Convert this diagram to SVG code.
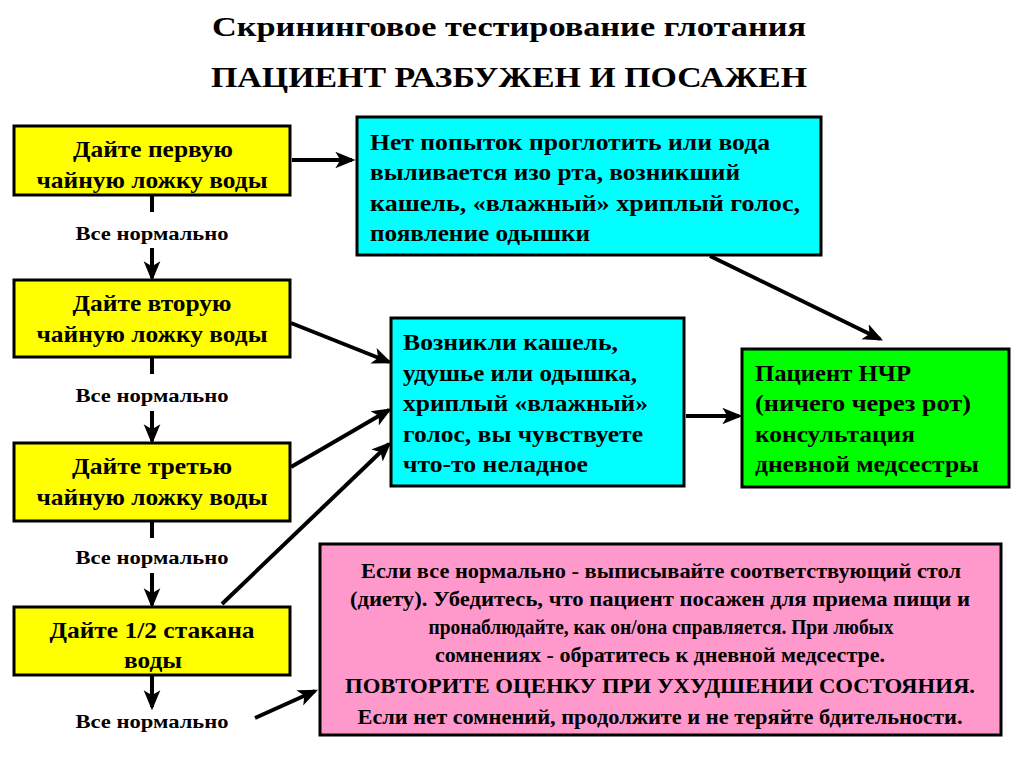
<svg xmlns="http://www.w3.org/2000/svg" width="1024" height="767" viewBox="0 0 1024 767">
<style>
.c{text-anchor:middle}
.box{stroke:#000;stroke-width:3}
.y{fill:#FFFF00}.cy{fill:#00FFFF}.g{fill:#00FF00}.p{fill:#FF99CC}
.ln{stroke:#000;stroke-width:4;fill:none}
.ar{stroke:#000;stroke-width:4;fill:none;marker-end:url(#ah)}
</style>
<defs>
<marker id="ah" viewBox="0 0 12 10" refX="10" refY="5" markerWidth="5" markerHeight="5" orient="auto" markerUnits="strokeWidth">
<path d="M0,0 L12,5 L0,10 L3,5 z" fill="#000"/>
</marker>
</defs>
<rect width="1024" height="767" fill="#fff"/>
<g font-family="'Liberation Serif', serif" font-weight="bold" fill="#000">
<g id="title">
<text class="c" x="509" y="36" font-size="28" textLength="594" lengthAdjust="spacingAndGlyphs">Скрининговое тестирование глотания</text>
<text class="c" x="509" y="87" font-size="30" textLength="596" lengthAdjust="spacingAndGlyphs">ПАЦИЕНТ РАЗБУЖЕН И ПОСАЖЕН</text>
</g>
<g id="connectors">
<line class="ln" x1="152" y1="195" x2="152" y2="212"/>
<line class="ar" x1="152" y1="248" x2="152" y2="278"/>
<line class="ln" x1="152" y1="357" x2="152" y2="374"/>
<line class="ar" x1="152" y1="411" x2="152" y2="441"/>
<line class="ln" x1="152" y1="521" x2="152" y2="538"/>
<line class="ar" x1="152" y1="573" x2="152" y2="605"/>
<line class="ar" x1="152" y1="675" x2="152" y2="707"/>
<line class="ar" x1="292" y1="160" x2="352" y2="160"/>
<line class="ar" x1="710" y1="256" x2="880" y2="339"/>
<line class="ar" x1="291" y1="323" x2="389" y2="362"/>
<line class="ar" x1="291" y1="467" x2="389" y2="410"/>
<line class="ar" x1="222" y1="604" x2="389" y2="444"/>
<line class="ar" x1="686" y1="416" x2="739" y2="416"/>
<line class="ar" x1="255" y1="718" x2="315" y2="691"/>
<text class="c" x="152" y="240" font-size="19" textLength="153" lengthAdjust="spacingAndGlyphs">Все нормально</text>
<text class="c" x="152" y="402" font-size="19" textLength="153" lengthAdjust="spacingAndGlyphs">Все нормально</text>
<text class="c" x="152" y="564" font-size="19" textLength="153" lengthAdjust="spacingAndGlyphs">Все нормально</text>
<text class="c" x="152" y="728" font-size="19" textLength="153" lengthAdjust="spacingAndGlyphs">Все нормально</text>
</g>
<g id="step1">
<rect class="box y" x="14" y="126" width="276" height="69"/>
<text class="c" x="153" y="157" font-size="23" textLength="160" lengthAdjust="spacingAndGlyphs">Дайте первую</text>
<text class="c" x="152" y="188" font-size="23" textLength="231" lengthAdjust="spacingAndGlyphs">чайную ложку воды</text>
</g>
<g id="step2">
<rect class="box y" x="14" y="280" width="276" height="77"/>
<text class="c" x="152" y="311" font-size="23" textLength="159" lengthAdjust="spacingAndGlyphs">Дайте вторую</text>
<text class="c" x="152" y="342" font-size="23" textLength="231" lengthAdjust="spacingAndGlyphs">чайную ложку воды</text>
</g>
<g id="step3">
<rect class="box y" x="14" y="443" width="276" height="78"/>
<text class="c" x="152" y="474" font-size="23" textLength="160" lengthAdjust="spacingAndGlyphs">Дайте третью</text>
<text class="c" x="152" y="505" font-size="23" textLength="231" lengthAdjust="spacingAndGlyphs">чайную ложку воды</text>
</g>
<g id="step4">
<rect class="box y" x="14" y="607" width="276" height="68"/>
<text class="c" x="152" y="638" font-size="23" textLength="205" lengthAdjust="spacingAndGlyphs">Дайте 1/2 стакана</text>
<text class="c" x="153" y="668" font-size="23" textLength="58" lengthAdjust="spacingAndGlyphs">воды</text>
</g>
<g id="noSwallow">
<rect class="box cy" x="357" y="117" width="464" height="138"/>
<text x="370" y="150" font-size="24" textLength="400" lengthAdjust="spacingAndGlyphs">Нет попыток проглотить или вода</text>
<text x="370" y="180" font-size="24" textLength="370" lengthAdjust="spacingAndGlyphs">выливается изо рта, возникший</text>
<text x="370" y="211" font-size="24" textLength="430" lengthAdjust="spacingAndGlyphs">кашель, «влажный» хриплый голос,</text>
<text x="370" y="241" font-size="24" textLength="220" lengthAdjust="spacingAndGlyphs">появление одышки</text>
</g>
<g id="cough">
<rect class="box cy" x="391" y="318" width="293" height="168"/>
<text x="403" y="350" font-size="24" textLength="215" lengthAdjust="spacingAndGlyphs">Возникли кашель,</text>
<text x="403" y="381" font-size="24" textLength="234" lengthAdjust="spacingAndGlyphs">удушье или одышка,</text>
<text x="403" y="411" font-size="24" textLength="245" lengthAdjust="spacingAndGlyphs">хриплый «влажный»</text>
<text x="403" y="442" font-size="24" textLength="240" lengthAdjust="spacingAndGlyphs">голос, вы чувствуете</text>
<text x="403" y="472" font-size="24" textLength="185" lengthAdjust="spacingAndGlyphs">что-то неладное</text>
</g>
<g id="npo">
<rect class="box g" x="742" y="349" width="267" height="138"/>
<text x="755" y="381" font-size="24" textLength="156" lengthAdjust="spacingAndGlyphs">Пациент НЧР</text>
<text x="755" y="411" font-size="24" textLength="216" lengthAdjust="spacingAndGlyphs">(ничего через рот)</text>
<text x="755" y="442" font-size="24" textLength="160" lengthAdjust="spacingAndGlyphs">консультация</text>
<text x="755" y="472" font-size="24" textLength="224" lengthAdjust="spacingAndGlyphs">дневной медсестры</text>
</g>
<g id="normal">
<rect class="box p" x="320" y="544" width="681" height="191"/>
<text class="c" x="661" y="578" font-size="21" textLength="600" lengthAdjust="spacingAndGlyphs">Если все нормально - выписывайте соответствующий стол</text>
<text class="c" x="660" y="606" font-size="21" textLength="620" lengthAdjust="spacingAndGlyphs">(диету). Убедитесь, что пациент посажен для приема пищи и</text>
<text class="c" x="661" y="634" font-size="21" textLength="465" lengthAdjust="spacingAndGlyphs">пронаблюдайте, как он/она справляется. При любых</text>
<text class="c" x="660" y="662" font-size="21" textLength="450" lengthAdjust="spacingAndGlyphs">сомнениях - обратитесь к дневной медсестре.</text>
<text class="c" x="660" y="693" font-size="21" textLength="630" lengthAdjust="spacingAndGlyphs">ПОВТОРИТЕ ОЦЕНКУ ПРИ УХУДШЕНИИ СОСТОЯНИЯ.</text>
<text class="c" x="660" y="724" font-size="21" textLength="605" lengthAdjust="spacingAndGlyphs">Если нет сомнений, продолжите и не теряйте бдительности.</text>
</g>
</g>
</svg>
